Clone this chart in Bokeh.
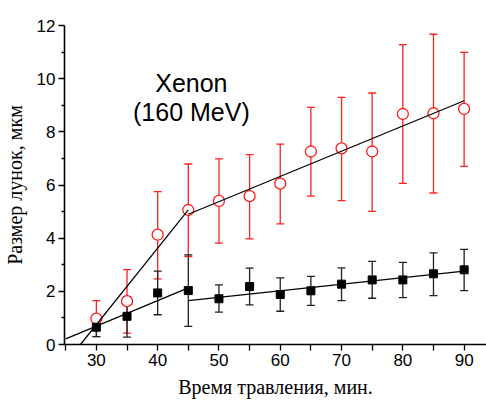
import math
from bokeh.plotting import figure
from bokeh.models import ColumnDataSource, Whisker, TeeHead, Range1d, Label, FixedTicker
from bokeh.embed import file_html
from bokeh.resources import INLINE

# ---- data ----
time_min = [30, 35, 40, 45, 50, 55, 60, 65, 70, 75, 80, 85, 90]
red_size = [0.97, 1.63, 4.13, 5.06, 5.40, 5.58, 6.05, 7.26, 7.38, 7.26, 8.67, 8.70, 8.86]
red_upper = [1.65, 2.82, 5.75, 6.79, 6.98, 7.14, 7.54, 8.92, 9.30, 9.46, 11.28, 11.67, 10.99]
red_lower = [0.30, 0.43, 2.47, 3.31, 3.81, 3.97, 4.54, 5.58, 5.41, 5.01, 6.06, 5.70, 6.70]
black_size = [0.65, 1.06, 1.94, 2.03, 1.72, 2.18, 1.88, 2.02, 2.27, 2.43, 2.43, 2.66, 2.81]
black_upper = [1.00, 1.80, 2.76, 3.37, 2.24, 2.87, 2.51, 2.56, 2.88, 3.13, 3.09, 3.45, 3.58]
black_lower = [0.30, 0.28, 1.12, 0.68, 1.22, 1.49, 1.25, 1.47, 1.65, 1.74, 1.76, 1.84, 2.03]

red_fit1_x = [27.4, 45]
red_fit1_y = [0.0, 5.06]
red_fit2_x = [45, 90]
red_fit2_y = [4.90, 9.17]
black_fit1_x = [25, 45]
black_fit1_y = [0.21, 2.13]
black_fit2_x = [45, 90]
black_fit2_y = [1.65, 2.76]

x_ticks = [30, 40, 50, 60, 70, 80, 90]
y_ticks = [0, 2, 4, 6, 8, 10, 12]

title_line1 = "Xenon"
title_line2 = "(160 MeV)"
x_title = "Время травления, мин."
y_title = "Размер лунок, мкм"

# ---- figure ----
p = figure(width=486, height=404, x_range=Range1d(24.8, 93.65), y_range=Range1d(0, 12),
           min_border_left=64, min_border_right=0, min_border_top=25, min_border_bottom=60,
           output_backend="svg", toolbar_location=None)
p.xgrid.visible = False
p.ygrid.visible = False
p.outline_line_color = None
p.background_fill_color = "white"
p.border_fill_color = "white"

for ax in (p.xaxis[0], p.yaxis[0]):
    ax.axis_line_width = 1.6
    ax.axis_line_color = "black"
    ax.major_tick_line_width = 1.3
    ax.minor_tick_line_width = 1.3
    ax.major_tick_in = 0
    ax.minor_tick_in = 0
    ax.major_label_text_font = "Liberation Sans"
    ax.major_label_text_font_size = "17px"
    ax.major_label_text_color = "black"
    ax.major_label_standoff = 3
    ax.axis_label_text_font = "Liberation Serif"
    ax.axis_label_text_font_size = "20px"
    ax.axis_label_text_font_style = "normal"
    ax.axis_label_text_color = "black"

p.xaxis[0].axis_label = x_title
p.yaxis[0].axis_label = y_title
p.xaxis[0].axis_label_standoff = 7
p.yaxis[0].axis_label_standoff = 8

p.xaxis[0].ticker = FixedTicker(ticks=x_ticks, minor_ticks=[t + 5 for t in x_ticks] + [25])
p.yaxis[0].ticker = FixedTicker(ticks=y_ticks, minor_ticks=[t + 1 for t in y_ticks[:-1]])
p.xaxis[0].major_tick_out = 6
p.xaxis[0].minor_tick_out = 6
p.yaxis[0].major_tick_out = 6
p.yaxis[0].minor_tick_out = 3

red_src = ColumnDataSource(dict(x=time_min, y=red_size, up=red_upper, lo=red_lower))
blk_src = ColumnDataSource(dict(x=time_min, y=black_size, up=black_upper, lo=black_lower))

w_red = Whisker(source=red_src, base="x", upper="up", lower="lo", dimension="height",
                line_color="#ff2020", line_width=1.3, level="underlay",
                upper_head=TeeHead(size=8, line_color="#ff2020", line_width=1.3),
                lower_head=TeeHead(size=8, line_color="#ff2020", line_width=1.3))
w_blk = Whisker(source=blk_src, base="x", upper="up", lower="lo", dimension="height",
                line_color="#202020", line_width=1.3, level="underlay",
                upper_head=TeeHead(size=8, line_color="#202020", line_width=1.3),
                lower_head=TeeHead(size=8, line_color="#202020", line_width=1.3))
p.add_layout(w_red)
p.add_layout(w_blk)

p.scatter("x", "y", source=red_src, marker="circle", size=11, fill_color="white",
          line_color="#ff1a1a", line_width=1.3)
p.scatter("x", "y", source=blk_src, marker="square", size=8, fill_color="black",
          line_color="black")

for fx, fy in ((red_fit1_x, red_fit1_y), (red_fit2_x, red_fit2_y),
               (black_fit1_x, black_fit1_y), (black_fit2_x, black_fit2_y)):
    p.line(fx, fy, line_color="black", line_width=1.2)

p.add_layout(Label(x=45.5, y=9.85, text=title_line1, text_align="center",
                   text_baseline="alphabetic", text_font="Liberation Sans",
                   text_font_size="25px", text_color="black"))
p.add_layout(Label(x=45.5, y=8.73, text=title_line2, text_align="center",
                   text_baseline="alphabetic", text_font="Liberation Sans",
                   text_font_size="25px", text_color="black"))

open("out.html", "w").write(file_html(p, INLINE))
